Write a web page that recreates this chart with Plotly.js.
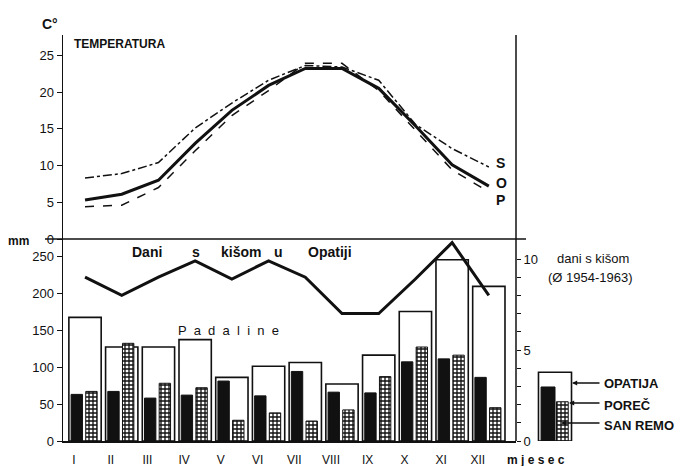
<!DOCTYPE html>
<html>
<head>
<meta charset="utf-8">
<script src="https://cdn.plot.ly/plotly-3.0.1.min.js"></script>
<style>html,body{margin:0;padding:0;background:#fff;}#chart{width:682px;height:466px;}</style>
</head>
<body>
<div id="chart"></div>
<script>
// ---- data ----
const months = ['I','II','III','IV','V','VI','VII','VIII','IX','X','XI','XII'];
const tempOpatija = [5.3, 6.1, 8.0, 13.0, 17.5, 20.9, 23.2, 23.2, 20.5, 15.4, 10.1, 7.2];
const tempSanRemo = [8.3, 8.9, 10.4, 15.1, 18.5, 21.6, 23.6, 23.4, 21.6, 15.6, 12.3, 9.8];
const tempPorec   = [4.4, 4.6, 7.0, 12.0, 16.8, 20.2, 23.9, 23.9, 20.2, 14.8, 9.4, 6.4];
const rainDaysOpatija = [9.0, 8.0, 9.0, 9.9, 8.9, 9.9, 9.0, 7.0, 7.0, 8.9, 10.9, 8.0];
const precipOpatija = [167, 127, 127, 137, 86, 101, 106, 77, 116, 175, 245, 209];
const precipPorec   = [63, 67, 58, 62, 81, 61, 94, 66, 65, 107, 111, 86];
const precipSanRemo = [67, 132, 78, 72, 28, 38, 27, 42, 87, 127, 116, 45];
const legendSample = [93, 73, 53]; // Opatija, Poreč, San Remo (legend swatch heights, mm)
const tempTicks = [0, 5, 10, 15, 20, 25];
const mmTicks = [0, 50, 100, 150, 200, 250];
const dayTicks = [0,1,2,3,4,5,6,7,8,9,10];
const dayTickText = ['0','','','','','5','','','','','10'];

// ---- geometry helpers (pixels -> paper) ----
const W = 682, H = 466, L = 63, T = 35, B = 25, R = 0;
const PW = W - L - R, PH = H - T - B;
const px = x => (x - L) / PW;
const py = y => (H - B - y) / PH;
const idx = months.map((m, i) => i);
const FONT = 'Liberation Sans, Arial, sans-serif';
const black = '#111';

const traces = [
  // Temperature lines
  {x: idx, y: tempSanRemo, xaxis: 'x', yaxis: 'y', type: 'scatter', mode: 'lines',
   line: {color: black, width: 1.5, dash: 'dashdot'}},
  {x: idx, y: tempPorec, xaxis: 'x', yaxis: 'y', type: 'scatter', mode: 'lines',
   line: {color: black, width: 1.5, dash: 'dash'}},
  {x: idx, y: tempOpatija, xaxis: 'x', yaxis: 'y', type: 'scatter', mode: 'lines',
   line: {color: black, width: 3}},
  // Precipitation bars
  {x: idx, y: precipOpatija, xaxis: 'x', yaxis: 'y2', type: 'bar', width: 0.88, offset: -0.44,
   marker: {color: '#fff', line: {color: black, width: 1.6}}},
  {x: idx, y: precipPorec, xaxis: 'x', yaxis: 'y2', type: 'bar', width: 0.31, offset: -0.38,
   marker: {color: black, line: {color: black, width: 1}}},
  {x: idx, y: precipSanRemo, xaxis: 'x', yaxis: 'y2', type: 'bar', width: 0.31, offset: 0.02,
   marker: {color: '#fff', line: {color: black, width: 1},
            pattern: {shape: '+', fgcolor: black, bgcolor: '#fff', size: 4, solidity: 0.55}}},
  // Rain days line
  {x: idx, y: rainDaysOpatija, xaxis: 'x', yaxis: 'y3', type: 'scatter', mode: 'lines',
   line: {color: black, width: 3}},
  // Legend swatches
  {x: [0], y: [legendSample[0]], xaxis: 'x2', yaxis: 'y2', type: 'bar', width: 0.9, offset: -0.45,
   marker: {color: '#fff', line: {color: black, width: 1.6}}},
  {x: [0], y: [legendSample[1]], xaxis: 'x2', yaxis: 'y2', type: 'bar', width: 0.38, offset: -0.38,
   marker: {color: black, line: {color: black, width: 1}}},
  {x: [0], y: [legendSample[2]], xaxis: 'x2', yaxis: 'y2', type: 'bar', width: 0.32, offset: 0.04,
   marker: {color: '#fff', line: {color: black, width: 1},
            pattern: {shape: '+', fgcolor: black, bgcolor: '#fff', size: 4, solidity: 0.55}}}
];

const sep = 239;
function txt(text, x, y, size, opts) {
  return Object.assign({text: text, xref: 'paper', yref: 'paper', x: px(x), y: py(y),
    showarrow: false, font: {family: FONT, size: size || 13, color: black},
    xanchor: 'center', yanchor: 'middle'}, opts || {});
}
function arrow(xHead, xTail, y) {
  return {xref: 'paper', yref: 'paper', x: px(xHead), y: py(y), ax: px(xTail), ay: py(y),
    axref: 'paper', ayref: 'paper', text: '', showarrow: true, arrowhead: 2, arrowsize: 0.8,
    arrowwidth: 1.3, arrowcolor: black};
}

const layout = {
  width: W, height: H, margin: {l: L, r: R, t: T, b: B},
  paper_bgcolor: '#fff', plot_bgcolor: 'rgba(0,0,0,0)',
  showlegend: false, barmode: 'overlay',
  font: {family: FONT, size: 13, color: black},
  xaxis: {domain: [0, px(516)], range: [-0.6, 11.74], anchor: 'y2', showline: true,
          linecolor: black, linewidth: 1.5, showgrid: false, zeroline: false, ticks: '',
          tickvals: idx.map(i => i - 0.3), ticktext: months, tickfont: {size: 12, family: FONT},
          ticklabelstandoff: 7, fixedrange: true},
  xaxis2: {domain: [px(527), px(589)], range: [-(555 - 527) / 36.7, (589 - 555) / 36.7],
           anchor: 'y2', visible: false, fixedrange: true},
  yaxis: {domain: [py(sep), 1], range: [0, (sep - T) / 7.35], anchor: 'x', showline: true,
          linecolor: black, linewidth: 1.5, showgrid: false, zeroline: false,
          tickvals: tempTicks, ticks: 'outside', ticklen: 5, tickcolor: black,
          tickfont: {size: 13, family: FONT}, fixedrange: true},
  yaxis2: {domain: [0, py(sep)], range: [0, (H - B - sep) / 0.74], anchor: 'x', showline: true,
           linecolor: black, linewidth: 1.5, showgrid: false, zeroline: false,
           tickvals: mmTicks, ticks: 'outside', ticklen: 5, tickcolor: black,
           tickfont: {size: 13, family: FONT}, fixedrange: true},
  yaxis3: {overlaying: 'y2', side: 'right', anchor: 'free', position: px(516),
           range: [0, (H - B - sep) / 18.2], showline: false, showgrid: false, zeroline: false,
           tickvals: dayTicks, ticktext: dayTickText, ticks: 'outside', ticklen: 4,
           tickcolor: black, tickfont: {size: 13, family: FONT}, fixedrange: true},
  shapes: [
    {type: 'line', xref: 'paper', yref: 'paper', x0: px(45), x1: px(526), y0: py(sep), y1: py(sep),
     line: {color: black, width: 1.5}},
    {type: 'line', xref: 'paper', yref: 'paper', x0: px(516), x1: px(516), y0: 0, y1: 1,
     line: {color: black, width: 1.5}}
  ],
  annotations: [
    txt('<b>C°</b>', 50, 24, 14),
    txt('<b>TEMPERATURA</b>', 72, 44, 12, {xanchor: 'left'}),
    txt('<b>mm</b>', 18, 241, 12),
    txt('<b>S</b>', 494, 163, 14, {xanchor: 'left'}),
    txt('<b>O</b>', 494, 183, 14, {xanchor: 'left'}),
    txt('<b>P</b>', 494, 200, 14, {xanchor: 'left'}),
    txt('<b>Dani</b>', 147, 252, 14),
    txt('<b>s</b>', 196, 252, 14),
    txt('<b>kišom</b>', 241, 252, 14),
    txt('<b>u</b>', 278, 252, 14),
    txt('<b>Opatiji</b>', 330, 252, 14),
    txt('P  a  d  a  l  i  n  e', 176, 330, 13, {xanchor: 'left'}),
    txt('dani s kišom', 555, 258, 13, {xanchor: 'left'}),
    txt('(Ø 1954-1963)', 546, 277, 13, {xanchor: 'left'}),
    txt('<b>OPATIJA</b>', 602, 383, 13, {xanchor: 'left'}),
    txt('<b>POREČ</b>', 602, 405, 13, {xanchor: 'left'}),
    txt('<b>SAN REMO</b>', 602, 425, 13, {xanchor: 'left'}),
    txt('<b>m j e s e c</b>', 536, 460, 12),
    arrow(572, 601, 383),
    arrow(569, 601, 403),
    arrow(561, 601, 423)
  ]
};

Plotly.newPlot('chart', traces, layout, {staticPlot: true, displayModeBar: false});
</script>
</body>
</html>
